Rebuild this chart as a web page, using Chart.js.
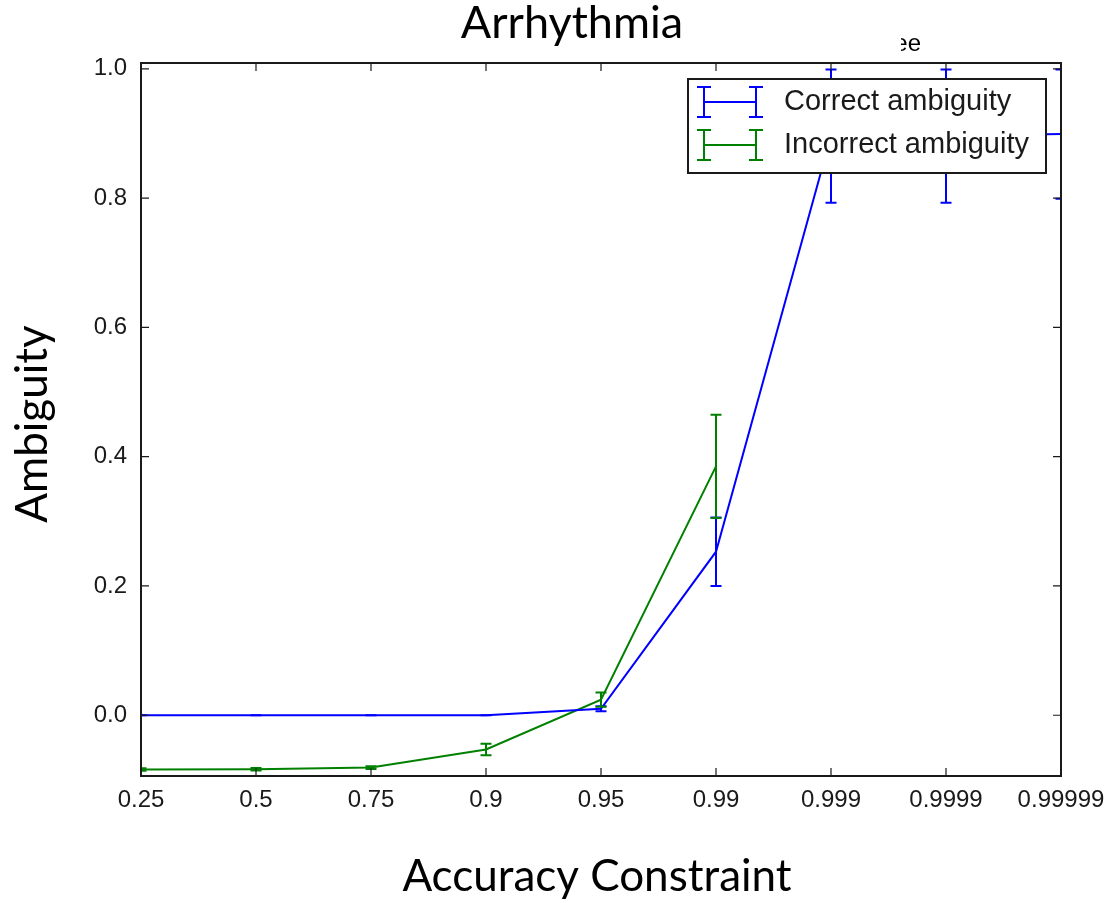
<!DOCTYPE html>
<html>
<head>
<meta charset="utf-8">
<script src="https://cdn.jsdelivr.net/npm/chart.js@4.4.1/dist/chart.umd.min.js"></script>
<style>
  html, body { margin: 0; padding: 0; background: #fff; }
  #wrap { width: 1109px; height: 903px; position: relative; }
</style>
</head>
<body>
<div id="wrap"><canvas id="chart"></canvas></div>
<script>
// accuracy constraints on the x axis
const constraints = ['0.25', '0.5', '0.75', '0.9', '0.95', '0.99', '0.999', '0.9999', '0.99999'];
const yTicks = [0, 0.2, 0.4, 0.6, 0.8, 1.0];

// mean ambiguity and error bar half-lengths
const correctMean = [0, 0, 0, 0, 0.010, 0.253, 0.896, 0.896, 0.899];
const correctErr = [0, 0, 0, 0, 0.004, 0.053, 0.103, 0.103, 0.1];
const incorrectMean = [-0.084, -0.0835, -0.081, -0.053, 0.024, 0.385, null, null, null];
const incorrectErr = [0.002, 0.002, 0.002, 0.009, 0.011, 0.08, null, null, null];

const BLUE = '#0000ff';
const GREEN = '#008000';
const INK = '#1a1a1a';
const SANS = '"Liberation Sans", Arial, sans-serif';

// vertical error bars with caps, one set per dataset
const errorBars = {
  id: 'errorBars',
  afterDatasetsDraw(chart) {
    const { ctx, chartArea: a, scales: { x, y } } = chart;
    ctx.save();
    ctx.beginPath();
    ctx.rect(a.left, a.top, a.right - a.left, a.bottom - a.top);
    ctx.clip();
    chart.data.datasets.forEach((ds) => {
      ctx.strokeStyle = ds.borderColor;
      ctx.lineWidth = 2;
      ds.data.forEach((v, i) => {
        const e = ds.errors[i];
        if (v === null || e === null) return;
        const px = x.getPixelForValue(i);
        const top = y.getPixelForValue(v + e);
        const bot = y.getPixelForValue(v - e);
        ctx.beginPath();
        ctx.moveTo(px, top); ctx.lineTo(px, bot);
        ctx.moveTo(px - 5.5, top); ctx.lineTo(px + 5.5, top);
        ctx.moveTo(px - 5.5, bot); ctx.lineTo(px + 5.5, bot);
        ctx.stroke();
      });
    });
    ctx.restore();
  },
};

// closed frame with inward tick marks on all four sides
const frame = {
  id: 'frame',
  afterDraw(chart) {
    const { ctx, chartArea: a, scales: { x, y } } = chart;
    ctx.save();
    ctx.strokeStyle = INK;
    ctx.lineWidth = 1.2;
    ctx.beginPath();
    constraints.forEach((c, i) => {
      const px = x.getPixelForValue(i);
      ctx.moveTo(px, a.bottom); ctx.lineTo(px, a.bottom - 8);
      ctx.moveTo(px, a.top); ctx.lineTo(px, a.top + 8);
    });
    yTicks.forEach((t) => {
      const py = y.getPixelForValue(t);
      ctx.moveTo(a.left, py); ctx.lineTo(a.left + 8, py);
      ctx.moveTo(a.right, py); ctx.lineTo(a.right - 8, py);
    });
    ctx.stroke();
    ctx.lineWidth = 2;
    ctx.strokeRect(a.left, a.top, a.right - a.left, a.bottom - a.top);
    ctx.restore();
  },
};

// legend box with errorbar-style handles
const errLegend = {
  id: 'errLegend',
  afterDraw(chart) {
    const { ctx } = chart;
    const box = { left: 688, top: 79, width: 358, height: 94 };
    ctx.save();
    ctx.fillStyle = '#fff';
    ctx.fillRect(box.left, box.top, box.width, box.height);
    ctx.strokeStyle = INK;
    ctx.lineWidth = 2;
    ctx.strokeRect(box.left, box.top, box.width, box.height);
    ctx.font = '29px ' + SANS;
    ctx.textBaseline = 'middle';
    chart.data.datasets.forEach((ds, i) => {
      const cy = 102 + i * 43;
      ctx.strokeStyle = ds.borderColor;
      ctx.lineWidth = 2;
      ctx.beginPath();
      ctx.moveTo(704, cy); ctx.lineTo(756, cy);
      ctx.moveTo(704, cy - 15); ctx.lineTo(704, cy + 15);
      ctx.moveTo(756, cy - 15); ctx.lineTo(756, cy + 15);
      ctx.moveTo(697, cy - 15); ctx.lineTo(711, cy - 15);
      ctx.moveTo(697, cy + 15); ctx.lineTo(711, cy + 15);
      ctx.moveTo(749, cy - 15); ctx.lineTo(763, cy - 15);
      ctx.moveTo(749, cy + 15); ctx.lineTo(763, cy + 15);
      ctx.stroke();
      ctx.fillStyle = INK;
      ctx.fillText(ds.label, 784, cy);
    });
    ctx.restore();
  },
};

// chart title and axis titles
const titles = {
  id: 'titles',
  afterDraw(chart) {
    const { ctx } = chart;
    ctx.save();
    ctx.fillStyle = '#000';
    ctx.textAlign = 'center';
    ctx.textBaseline = 'alphabetic';
    ctx.font = '45px Lato, "Open Sans", sans-serif';
    ctx.fillText('Arrhythmia', 572, 38);
    ctx.font = '44px Lato, "Open Sans", sans-serif';
    ctx.fillText('Accuracy Constraint', 597, 891);
    ctx.translate(47, 424);
    ctx.rotate(-Math.PI / 2);
    ctx.fillText('Ambiguity', 0, 0);
    ctx.restore();

    // clipped tail of an older heading left above the frame
    ctx.save();
    ctx.beginPath();
    ctx.rect(901, 20, 60, 40);
    ctx.clip();
    ctx.fillStyle = '#000';
    ctx.font = '24px ' + SANS;
    ctx.textAlign = 'right';
    ctx.textBaseline = 'middle';
    ctx.fillText('ee', 921, 44);
    ctx.restore();
  },
};

new Chart(document.getElementById('chart'), {
  type: 'line',
  data: {
    labels: constraints,
    datasets: [
      {
        label: 'Correct ambiguity',
        data: correctMean,
        errors: correctErr,
        borderColor: BLUE,
        borderWidth: 2,
        pointRadius: 0,
        tension: 0,
      },
      {
        label: 'Incorrect ambiguity',
        data: incorrectMean,
        errors: incorrectErr,
        borderColor: GREEN,
        borderWidth: 2,
        pointRadius: 0,
        tension: 0,
      },
    ],
  },
  options: {
    responsive: true,
    maintainAspectRatio: false,
    animation: false,
    layout: { padding: { top: 63, right: 48, bottom: 0, left: 0 } },
    plugins: {
      legend: { display: false },
      tooltip: { enabled: false },
      title: { display: false },
    },
    scales: {
      x: {
        type: 'category',
        offset: false,
        grid: { display: false },
        border: { display: false },
        ticks: { font: { family: SANS, size: 24 }, color: INK, padding: 2, maxRotation: 0, autoSkip: false },
        afterFit: (s) => { s.height = 127; },
      },
      y: {
        min: -0.094,
        max: 1.009,
        grid: { display: false },
        border: { display: false },
        afterBuildTicks: (s) => { s.ticks = yTicks.map((v) => ({ value: v })); },
        ticks: {
          font: { family: SANS, size: 24 },
          color: INK,
          padding: 6,
          callback: (v) => Number(v).toFixed(1),
        },
        afterFit: (s) => { s.width = 141; },
      },
    },
  },
  plugins: [errorBars, frame, errLegend, titles],
});
</script>
</body>
</html>
